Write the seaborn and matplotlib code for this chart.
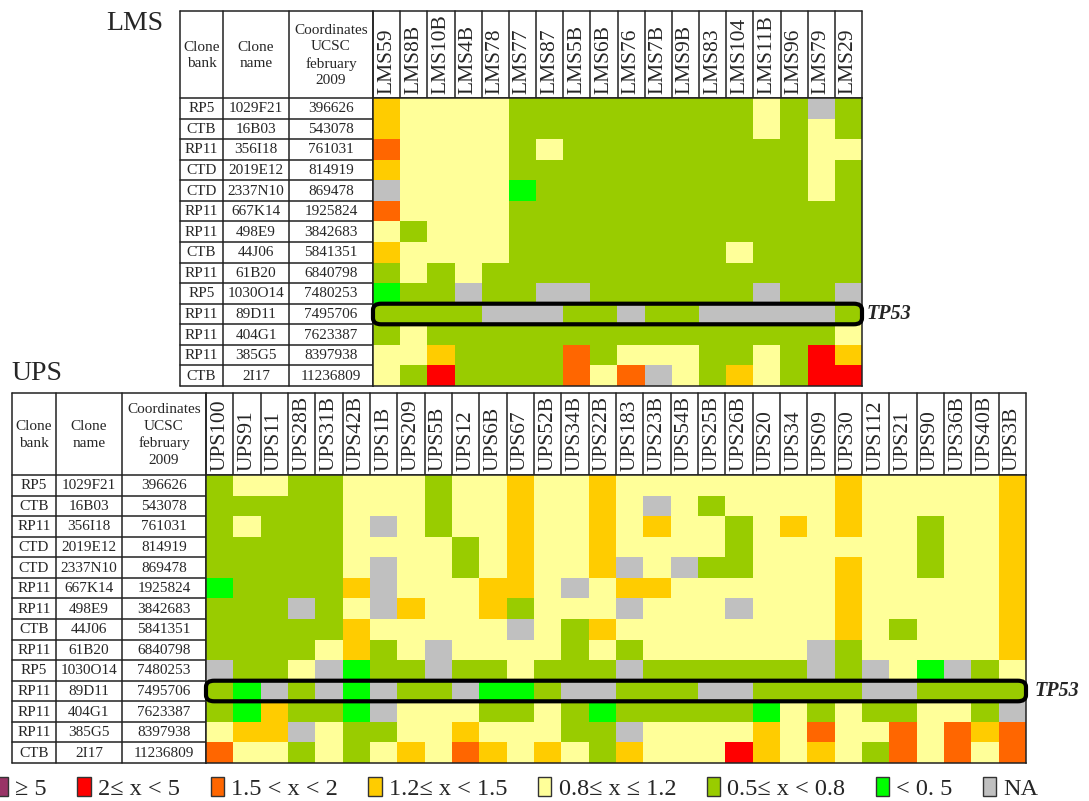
import numpy as np
import matplotlib
matplotlib.use("Agg")
import matplotlib.pyplot as plt
from matplotlib.colors import ListedColormap
from matplotlib.patches import Patch, FancyBboxPatch
import seaborn as sns

# Ratio classes (one letter per class) with legend text and colours
class_codes = ["P", "R", "O", "Y", "L", "G", "B", "N"]
class_labels = ["≥ 5", "2≤ x < 5", "1.5 < x < 2", "1.2≤ x < 1.5",
                "0.8≤ x ≤ 1.2", "0.5≤ x < 0.8", "< 0. 5", "NA"]
class_colors = ["#993366", "#FF0000", "#FF6600", "#FFCC00",
                "#FFFF99", "#99CC00", "#00FF00", "#C0C0C0"]

# BAC clones (rows)
clone_bank = ["RP5", "CTB", "RP11", "CTD", "CTD", "RP11", "RP11", "CTB",
              "RP11", "RP5", "RP11", "RP11", "RP11", "CTB"]
clone_name = ["1029F21", "16B03", "356I18", "2019E12", "2337N10", "667K14",
              "498E9", "44J06", "61B20", "1030O14", "89D11", "404G1",
              "385G5", "2I17"]
coordinates = ["396626", "543078", "761031", "814919", "869478", "1925824",
               "3842683", "5841351", "6840798", "7480253", "7495706",
               "7623387", "8397938", "11236809"]
tp53_clone = "89D11"

# LMS tumours
lms_samples = ["LMS59", "LMS8B", "LMS10B", "LMS4B", "LMS78", "LMS77", "LMS87",
               "LMS5B", "LMS6B", "LMS76", "LMS7B", "LMS9B", "LMS83", "LMS104",
               "LMS11B", "LMS96", "LMS79", "LMS29"]
lms_classes = [
    "YLLLLGGGGGGGGGLGNG",
    "YLLLLGGGGGGGGGLGLG",
    "OLLLLGLGGGGGGGGGLL",
    "YLLLLGGGGGGGGGGGLG",
    "NLLLLBGGGGGGGGGGLG",
    "OLLLLGGGGGGGGGGGGG",
    "LGLLLGGGGGGGGGGGGG",
    "YLLLLGGGGGGGGLGGGG",
    "GLGLGGGGGGGGGGGGGG",
    "BGGNGGNNGGGGGGNGGN",
    "GGGGNNNGGNGGNNNNNG",
    "GLGGGGGGGGGGGGGGGL",
    "LLYGGGGOGLLLGGLGRY",
    "LGRGGGGOLONLGYLGRR",
]

# UPS tumours
ups_samples = ["UPS100", "UPS91", "UPS11", "UPS28B", "UPS31B", "UPS42B", "UPS1B",
               "UPS209", "UPS5B", "UPS12", "UPS6B", "UPS67", "UPS52B", "UPS34B",
               "UPS22B", "UPS183", "UPS23B", "UPS54B", "UPS25B", "UPS26B",
               "UPS20", "UPS34", "UPS09", "UPS30", "UPS112", "UPS21", "UPS90",
               "UPS36B", "UPS40B", "UPS3B"]
ups_classes = [
    "GLLGGLLLGLLYLLY" + "LLLLLLLLYLLLLLY",
    "GGGGGLLLGLLYLLY" + "LNLGLLLLYLLLLLY",
    "GLGGGLNLGLLYLLY" + "LYLLGLYLYLLGLLY",
    "GGGGGLLLLGLYLLY" + "LLLLGLLLLLLGLLY",
    "GGGGGLNLLGLYLLY" + "NLNGGLLLYLLGLLY",
    "BGGGGYNLLLYYLNL" + "YYLLLLLLYLLLLLY",
    "GGGNGLNYLLYGLLL" + "NLLLNLLLYLLLLLY",
    "GGGGGYLLLLLNLGY" + "LLLLLLLLYLGLLLY",
    "GGGGLYGLNLLLLGL" + "GLLLLLLNGLLLLLY",
    "NGGLNBGGNGGLGGG" + "NGGGGGGNGNLBNGL",
    "GBNGNBNGGNBBGNN" + "GGGNNGGGGNNGGGG",
    "GBYGGBNLLLGGLGB" + "GGGGGBLGLGGLLGN",
    "LYYNLGGLLYLLLGG" + "NLLLLYLOLLOLOYO",
    "OLLGLGLYLOYLYLG" + "YLLLRYLYLGOLOLO",
]

sns.set_theme(style="white")
plt.rcParams["font.family"] = ["Liberation Serif", "DejaVu Serif"]

W, H = 1089, 801
fig = plt.figure(figsize=(W / 100, H / 100), dpi=100)
fig.patch.set_facecolor("white")

# Page-level axes in pixel units for the clone tables
page = fig.add_axes([0, 0, 1, 1])
page.set_xlim(0, W)
page.set_ylim(H, 0)
page.axis("off")

cmap = ListedColormap(class_colors)
line_kw = dict(color="#222222", lw=1.1)


def draw_block(title, title_xy, samples, rows, xb, x_right, y_head, y_top,
               y_bot, tag_offset):
    n_rows, n_cols = len(rows), len(samples)
    codes = np.array([[class_codes.index(c) for c in r] for r in rows])
    rh = (y_bot - y_top) / n_rows

    ax = fig.add_axes([xb[3] / W, 1 - y_bot / H,
                       (x_right - xb[3]) / W, (y_bot - y_top) / H])
    sns.heatmap(codes, ax=ax, cmap=cmap, vmin=-0.5,
                vmax=len(class_codes) - 0.5, cbar=False,
                xticklabels=samples, yticklabels=False)
    ax.xaxis.tick_top()
    ax.tick_params(axis="x", length=0, pad=3)
    for lab in ax.get_xticklabels():
        lab.set_rotation(90)
        lab.set_fontsize(15.5)
        lab.set_va("bottom")
        lab.set_ha("center")
    for s in ax.spines.values():
        s.set_visible(True)
        s.set_linewidth(1.1)
        s.set_color("#222222")

    # column header boxes
    cw = (x_right - xb[3]) / n_cols
    for j in range(n_cols + 1):
        x = xb[3] + j * cw
        page.plot([x, x], [y_head, y_top], **line_kw)
    page.plot([xb[0], x_right], [y_head, y_head], **line_kw)
    page.plot([xb[0], x_right], [y_top, y_top], **line_kw)

    # clone table
    for x in xb:
        page.plot([x, x], [y_head, y_bot], **line_kw)
    for i in range(1, n_rows + 1):
        y = y_top + i * rh
        page.plot([xb[0], xb[3]], [y, y], **line_kw)
    heads = ["Clone\nbank", "Clone\nname", "Coordinates\nUCSC\nfebruary\n2009"]
    for k, txt in enumerate(heads):
        page.text((xb[k] + xb[k + 1]) / 2, (y_head + y_top) / 2 + 1, txt,
                  ha="center", va="center", fontsize=11, linespacing=1.35)
    for i in range(n_rows):
        yc = y_top + (i + 0.5) * rh
        for k, col in enumerate([clone_bank, clone_name, coordinates]):
            page.text((xb[k] + xb[k + 1]) / 2, yc + 0.5, col[i],
                      ha="center", va="center", fontsize=11)

    # TP53 locus
    idx = clone_name.index(tp53_clone)
    ax.add_patch(FancyBboxPatch((0.0, idx), n_cols, 1,
                                boxstyle="round,pad=0,rounding_size=0.3",
                                fill=False, lw=3, ec="black", clip_on=False,
                                zorder=5))
    ax.annotate("TP53", xy=(n_cols, idx + 0.5), xytext=(tag_offset, 0),
                textcoords="offset points", ha="left", va="center",
                fontsize=14.5, fontweight="bold", fontstyle="italic",
                annotation_clip=False)

    page.text(title_xy[0], title_xy[1], title, ha="center", va="center",
              fontsize=20)


draw_block("LMS", (135, 23), lms_samples, lms_classes,
           [180, 223, 289, 373], 862, 11, 98, 386, 3)
draw_block("UPS", (37, 373), ups_samples, ups_classes,
           [12, 56, 122, 206], 1026, 393, 475, 763, 6.5)

handles = [Patch(facecolor=c, edgecolor="#333333", lw=1.0) for c in class_colors]
fig.legend(handles, class_labels, ncol=len(class_labels), loc="lower left",
           bbox_to_anchor=(-0.007, -0.002), frameon=False, fontsize=17.5,
           handlelength=0.55, handleheight=0.8, handletextpad=0.3,
           columnspacing=1.25, borderpad=0.1, borderaxespad=0.0)

fig.savefig("out.png", dpi=100, facecolor="white")
